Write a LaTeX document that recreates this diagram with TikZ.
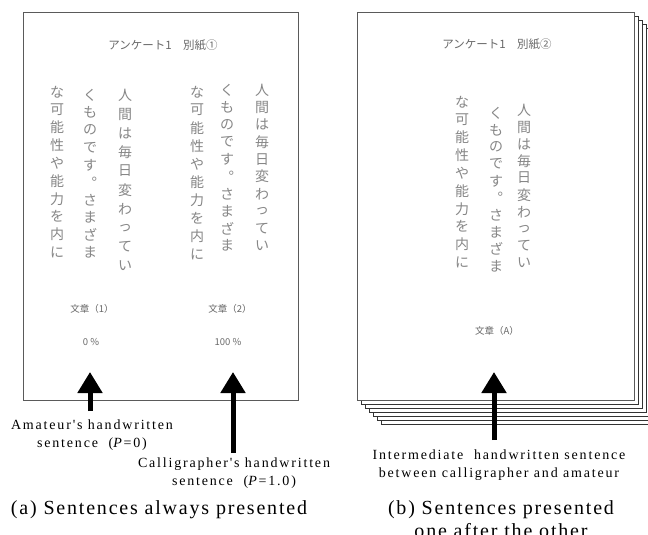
\documentclass[tikz,border=0pt]{standalone}
\usepackage{fontspec}
\setmainfont{Liberation Serif}
\newfontfamily\jp{Noto Sans CJK JP}
\newfontfamily\labfont[LetterSpace=13]{Liberation Serif}
\newfontfamily\capfont[LetterSpace=9]{Liberation Serif}
\usetikzlibrary{arrows.meta}
\definecolor{edge}{RGB}{90,90,90}
\definecolor{jtext}{RGB}{105,105,105}
\definecolor{hand}{RGB}{135,135,135}
\tikzset{
  sheet/.style={fill=white, draw=edge, line width=1.4pt},
  backsheet/.style={fill=white, draw=black!80, line width=1.1pt},
  jtitle/.style={font=\jp\fontsize{11.5}{12}\selectfont, text=jtext, inner sep=0pt},
  jsmall/.style={font=\jp\fontsize{9.5}{10}\selectfont, text=jtext, inner sep=0pt},
  hw/.style={font=\jp\fontsize{14}{14}\selectfont, text=hand, inner sep=0pt},
  label/.style={font=\labfont\fontsize{14}{18}\selectfont, align=center, inner sep=0pt},
  caption/.style={font=\capfont\fontsize{20}{23}\selectfont, align=center, inner sep=0pt},
  bigarrow/.style={line width=5pt, -{Triangle[width=24pt,length=21pt]}},
}
\newcommand\vcolumn[5]{%
  \foreach \ch [count=\i] in {#5} {
    \node[hw] (#1-\i) at (#2, {#3+(\i-1)*#4}) {\ch};
  }%
}
\begin{document}
\begin{tikzpicture}[x=1pt, y=-1pt]
\useasboundingbox (0,0) rectangle (648,535);
\clip (0,0) rectangle (648,535);

% ---------- (a) single sheet ----------
\node[sheet, minimum width=275pt, minimum height=388pt, inner sep=0pt, anchor=north west] (sa) at (23,12) {};
\node[jtitle] (ta) at (163,45) {アンケート1　別紙①};

\vcolumn{a1}{262}{90}{17.3}{人,間,は,毎,日,変,わ,っ,て,い}
\vcolumn{a2}{227}{90}{17.3}{く,も,の,で,す,︒,さ,ま,ざ,ま}
\vcolumn{a3}{197}{92}{18}{な,可,能,性,や,能,力,を,内,に}
\vcolumn{a4}{125}{95}{19}{人,間,は,毎,日,変,わ,っ,て,い}
\vcolumn{a5}{90}{95}{17.5}{く,も,の,で,す,︒,さ,ま,ざ,ま}
\vcolumn{a6}{57}{92}{17.8}{な,可,能,性,や,能,力,を,内,に}

\node[jsmall] (s1) at (92,309) {文章（1）};
\node[jsmall] (s2) at (230,309) {文章（2）};
\node[jsmall] (p1) at (91,342) {0 \%};
\node[jsmall] (p2) at (228,342) {100 \%};

\node[label] (la) at (92,435) {Amateur's handwritten\\sentence\ \ (\textit{P}=0)};
\node[label] (lb) at (234,473) {Calligrapher's handwritten\\sentence\ \ (\textit{P}=1.0)};
\coordinate (a1s) at (90,411);
\coordinate (a1t) at (90,372);
\coordinate (a2s) at (233,453);
\coordinate (a2t) at (233,372);
\draw[bigarrow] (a1s) -- (a1t);
\draw[bigarrow] (a2s) -- (a2t);

\node[caption] (ca) at (159,510) {(a) Sentences always presented};

% ---------- (b) stack of sheets ----------
\foreach \k in {6,5,...,1} {
  \node[backsheet, minimum width=277pt, minimum height=388pt, inner sep=0pt, anchor=north west] (sb\k) at ({357+4*\k},{12+4*\k}) {};
}
\node[sheet, minimum width=277pt, minimum height=388pt, inner sep=0pt, anchor=north west] (sb0) at (357,12) {};
\node[jtitle] (tb) at (497,44) {アンケート1　別紙②};

\vcolumn{b1}{524}{110}{17}{人,間,は,毎,日,変,わ,っ,て,い}
\vcolumn{b2}{496}{113}{17}{く,も,の,で,す,︒,さ,ま,ざ,ま}
\vcolumn{b3}{462}{102}{17.8}{な,可,能,性,や,能,力,を,内,に}

\node[jsmall] (sA) at (497,331) {文章（A）};

\coordinate (b1s) at (494,440);
\coordinate (b1t) at (494,372);
\draw[bigarrow] (b1s) -- (b1t);
\node[label] (lc) at (499,465) {Intermediate\ \ handwritten sentence\\between calligrapher and amateur};
\node[caption] (cb) at (501,519) {(b) Sentences presented\\one after the other};
\end{tikzpicture}
\end{document}
